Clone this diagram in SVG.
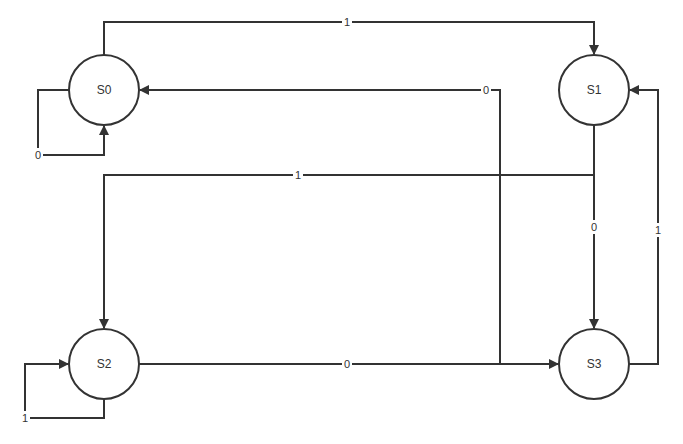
<svg xmlns="http://www.w3.org/2000/svg" width="683" height="444" viewBox="0 0 683 444">
<style>
.n{fill:#fff;stroke:#333;stroke-width:2}
.t{font-family:"Liberation Sans",Arial,sans-serif;font-size:12px;fill:#333;text-anchor:middle;dominant-baseline:central}
.c{fill:none;stroke:#333;stroke-width:2}
.l{font-family:"Liberation Sans",Arial,sans-serif;font-size:11px;fill:#333;text-anchor:middle;dominant-baseline:central}
.lb{fill:#fff}
</style>
<defs><marker id="a" markerWidth="10" markerHeight="10" refX="9" refY="5" orient="auto" markerUnits="userSpaceOnUse"><path d="M0,0L10,5L0,10z" fill="#333"/></marker></defs>
<rect width="683" height="444" fill="#fff"/>
<g id="connectors">
<path class="c" d="M104,55V22H594V54" marker-end="url(#a)"/>
<path class="c" d="M69,90H38V155H104V126" marker-end="url(#a)"/>
<path class="c" d="M594,125V175H104V328" marker-end="url(#a)"/>
<path class="c" d="M594,175V328" marker-end="url(#a)"/>
<path class="c" d="M629,364H658V90H630" marker-end="url(#a)"/>
<path class="c" d="M139,364H558" marker-end="url(#a)"/>
<path class="c" d="M500,364V90H140" marker-end="url(#a)"/>
<path class="c" d="M104,399V418H25V364H68" marker-end="url(#a)"/>
<rect class="lb" x="342" y="15" width="10" height="14"/><text class="l" x="347" y="22">1</text>
<rect class="lb" x="33" y="148" width="10" height="14"/><text class="l" x="38" y="155">0</text>
<rect class="lb" x="293" y="168" width="10" height="14"/><text class="l" x="298" y="175">1</text>
<rect class="lb" x="589" y="220" width="10" height="14"/><text class="l" x="594" y="227">0</text>
<rect class="lb" x="653" y="223" width="10" height="14"/><text class="l" x="658" y="230">1</text>
<rect class="lb" x="342" y="357" width="10" height="14"/><text class="l" x="347" y="364">0</text>
<rect class="lb" x="481" y="83" width="10" height="14"/><text class="l" x="486" y="90">0</text>
<rect class="lb" x="20" y="411" width="10" height="14"/><text class="l" x="25" y="418">1</text>
</g>
<g id="S0"><circle class="n" cx="104" cy="90" r="35"/><text class="t" x="104" y="90">S0</text></g>
<g id="S1"><circle class="n" cx="594" cy="90" r="35"/><text class="t" x="594" y="90">S1</text></g>
<g id="S2"><circle class="n" cx="104" cy="364" r="35"/><text class="t" x="104" y="364">S2</text></g>
<g id="S3"><circle class="n" cx="594" cy="364" r="35"/><text class="t" x="594" y="364">S3</text></g>
</svg>
